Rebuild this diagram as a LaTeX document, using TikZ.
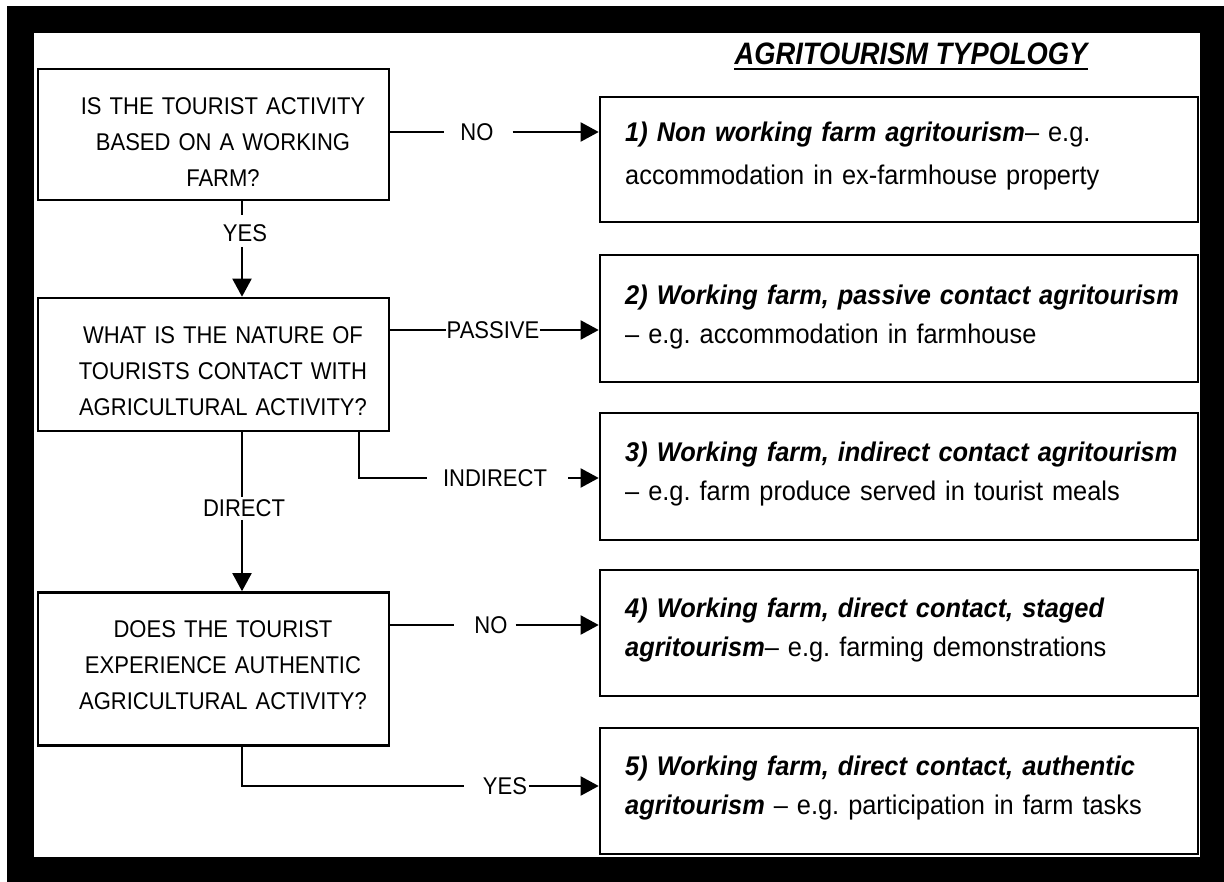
\documentclass[tikz,border=0pt]{standalone}
\usepackage{fontspec}
\setmainfont{Liberation Sans}[FakeStretch=0.91]
\newfontfamily\outcomefont{Liberation Sans}[FakeStretch=0.94]
\newfontfamily\titlefont{Liberation Sans}[FakeStretch=0.88]
\usetikzlibrary{arrows.meta,calc}

\begin{document}
\frenchspacing
\begin{tikzpicture}[x=1pt,y=-1pt,
  qbox/.style={draw, line width=2.6pt, rectangle, inner sep=0pt, minimum width=351pt},
  obox/.style={draw, line width=2.6pt, rectangle, inner sep=0pt, minimum width=598pt},
  qtext/.style={anchor=base, text width=330pt, align=center, inner sep=0pt,
    font=\fontsize{24.2}{36}\selectfont},
  otext/.style={anchor=base west, text width=570pt, align=left, inner sep=0pt,
    font=\outcomefont\fontsize{27}{39}\selectfont},
  lbl/.style={inner sep=0pt, font=\fontsize{24.2}{26}\selectfont},
  conn/.style={line width=2pt},
  arr/.style={line width=2pt, -{Triangle[length=18pt,width=19pt]}},
]
\newcommand{\bi}[1]{\textbf{\textit{#1}}}
\useasboundingbox (0,0) rectangle (1224,882);
% page and black frame
\fill[white] (0,0) rectangle (1224,882);
\fill[black] (7,6) rectangle (1224,882);
\fill[white] (34,33) rectangle (1200,857);

% title
\node[anchor=base, inner sep=0pt, font=\titlefont\fontsize{31}{34}\selectfont\bfseries\itshape]
  (title) at (911,65) {AGRITOURISM TYPOLOGY};
\draw[line width=2.2pt] ($(title.base west)+(0,4)$) -- ($(title.base east)+(0,4)$);

% decision boxes
\node[qbox, minimum height=131pt] (q1) at (213.5,134.5) {};
\node[qbox, minimum height=133pt] (q2) at (213.5,364.5) {};
\node[qbox, minimum height=153pt] (q3) at (213.5,669) {};
\node[qtext] (q1t) at (223,115) {IS THE TOURIST ACTIVITY\\BASED ON A WORKING\\FARM?};
\node[qtext] (q2t) at (223,344) {WHAT IS THE NATURE OF\\TOURISTS CONTACT WITH\\AGRICULTURAL ACTIVITY?};
\node[qtext] (q3t) at (223,637) {DOES THE TOURIST\\EXPERIENCE AUTHENTIC\\AGRICULTURAL ACTIVITY?};

% outcome boxes
\node[obox, minimum height=125pt] (r1) at (899,159.5) {};
\node[obox, minimum height=127pt] (r2) at (899,318.5) {};
\node[obox, minimum height=127pt] (r3) at (899,476.5) {};
\node[obox, minimum height=126pt] (r4) at (899,633) {};
\node[obox, minimum height=126pt] (r5) at (899,791) {};
\node[otext, font=\outcomefont\fontsize{27}{43}\selectfont] (r1t) at (625,142)
  {\bi{1) Non working farm agritourism}– e.g.\\accommodation in ex-farmhouse property};
\node[otext] (r2t) at (625,305)
  {\bi{2) Working farm, passive contact agritourism}\\– e.g. accommodation in farmhouse};
\node[otext] (r3t) at (625,462)
  {\bi{3) Working farm, indirect contact agritourism}\\– e.g. farm produce served in tourist meals};
\node[otext] (r4t) at (625,617)
  {\bi{4) Working farm, direct contact, staged}\\\bi{agritourism}– e.g. farming demonstrations};
\node[otext] (r5t) at (625,775)
  {\bi{5) Working farm, direct contact, authentic}\\\bi{agritourism} – e.g. participation in farm tasks};

% vertical spine and branch positions
\coordinate (spine) at (242,0);
\coordinate (branch) at (359,0);

% Q1 -> outcome 1
\node[lbl] (no1) at (477,132) {NO};
\draw[conn] (q1.east |- no1) -- ($(no1.west)+(-16,0)$);
\draw[arr] ($(no1.east)+(19,0)$) -- (no1 -| r1.west);

% Q1 -> Q2
\node[lbl] (yes1) at (245,233) {YES};
\draw[conn] (spine |- q1.south) -- ($(spine |- yes1.north)+(0,-9)$);
\draw[arr] ($(spine |- yes1.south)+(0,5)$) -- (spine |- q2.north);

% Q2 -> outcome 2
\node[lbl] (pas) at (493,330) {PASSIVE};
\draw[conn] (q2.east |- pas) -- (pas.west);
\draw[arr] (pas.east) -- (pas -| r2.west);

% Q2 -> outcome 3
\node[lbl] (ind) at (495,478) {INDIRECT};
\draw[conn] (branch |- q2.south) |- ($(ind.west)+(-16,0)$);
\draw[arr] ($(ind.east)+(21,0)$) -- (ind -| r3.west);

% Q2 -> Q3
\node[lbl] (dir) at (244,508) {DIRECT};
\draw[conn] (spine |- q2.south) -- ($(spine |- dir.north)+(0,-2)$);
\draw[arr] ($(spine |- dir.south)+(0,3)$) -- (spine |- q3.north);

% Q3 -> outcome 4
\node[lbl] (no2) at (491,625) {NO};
\draw[conn] (q3.east |- no2) -- ($(no2.west)+(-20,0)$);
\draw[arr] ($(no2.east)+(8,0)$) -- (no2 -| r4.west);

% Q3 -> outcome 5
\node[lbl] (yes2) at (505,786) {YES};
\draw[conn] (spine |- q3.south) |- ($(yes2.west)+(-19,0)$);
\draw[arr] ($(yes2.east)+(2,0)$) -- (yes2 -| r5.west);
\end{tikzpicture}
\end{document}
